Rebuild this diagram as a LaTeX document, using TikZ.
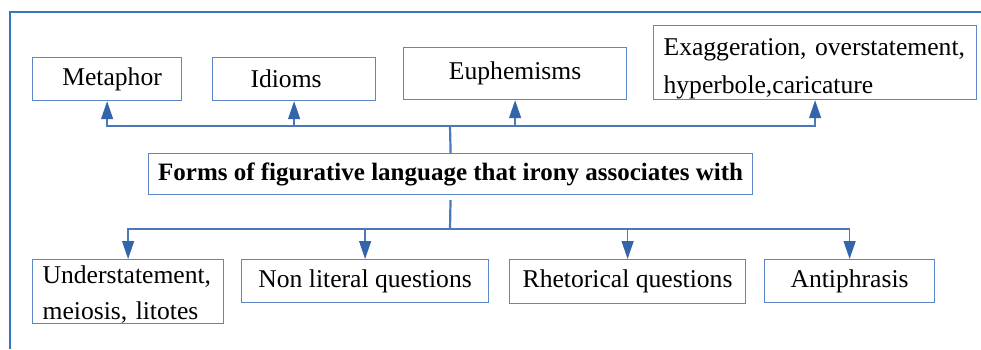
\documentclass[tikz,border=0pt]{standalone}
\usepackage{fontspec}
\setmainfont{Liberation Serif}
\usetikzlibrary{arrows.meta}

\definecolor{frameblue}{HTML}{3A75C4}
\definecolor{boxblue}{HTML}{5B87C6}
\definecolor{linkblue}{HTML}{4A78B8}
\definecolor{tipblue}{HTML}{3464AA}

\tikzset{
  framebox/.style={draw=frameblue, line width=2.4pt},
  formbox/.style={draw=boxblue, line width=1.2pt, rectangle, anchor=north west,
    inner xsep=0pt, inner ysep=0pt, align=center,
    font=\fontsize{25.6}{30}\selectfont},
  twoline/.style={inner xsep=10pt, align=left},
  mainbox/.style={formbox, font=\fontsize{25}{30}\selectfont\bfseries},
  link/.style={draw=linkblue, line width=1.4pt},
  trunk/.style={draw=linkblue, line width=2.2pt},
  arrowlink/.style={link, -{Triangle[length=18pt, width=12pt, fill=tipblue, color=tipblue]}},
}

\begin{document}
\begin{tikzpicture}[x=1pt, y=-1pt]
  \useasboundingbox (0,0) rectangle (981,349);

  % outer frame, open to the right and below
  \draw[framebox] (10,349) -- (10,12) -- (981,12);

  % upper row
  \node[formbox, minimum width=149pt, minimum height=43pt] (met) at (32,57) {\hspace*{10pt}Metaphor};
  \node[formbox, minimum width=163pt, minimum height=43pt] (idi) at (212,57) {Idioms\hspace*{16pt}};
  \node[formbox, minimum width=223pt, minimum height=52pt] (eup) at (403,47) {Euphemisms};
  \node[formbox, twoline, text width=303pt, minimum height=74pt] (exa) at (653,25)
    {\rule{0pt}{29pt}Exaggeration, overstatement,\\[8pt]hyperbole,caricature};

  % central box
  \node[mainbox, minimum width=604pt, minimum height=41pt] (main) at (148,153)
    {Forms of figurative language that irony associates with};

  % lower row
  \node[formbox, twoline, text width=171pt, minimum height=64pt] (und) at (32,259)
    {\rule{0pt}{24pt}Understatement,\\[6pt]meiosis, litotes};
  \node[formbox, minimum width=247pt, minimum height=43pt] (non) at (241,259) {Non literal questions};
  \node[formbox, minimum width=236pt, minimum height=44pt] (rhe) at (509,259) {Rhetorical questions};
  \node[formbox, minimum width=170pt, minimum height=43pt] (ant) at (764,259) {Antiphrasis};

  % junctions of the two buses
  \coordinate (tb) at (450,126);
  \coordinate (bb) at (450,229);

  % upper bus
  \draw[trunk] (main.north) -- (tb);
  \foreach \n in {met, idi, eup, exa}
    \draw[arrowlink] (tb) -| (\n.south);

  % lower bus
  \draw[trunk, shorten <=5pt] (main.south) -- (bb);
  \foreach \n in {und, non, rhe, ant}
    \draw[arrowlink] (bb) -| (\n.north);
\end{tikzpicture}
\end{document}
